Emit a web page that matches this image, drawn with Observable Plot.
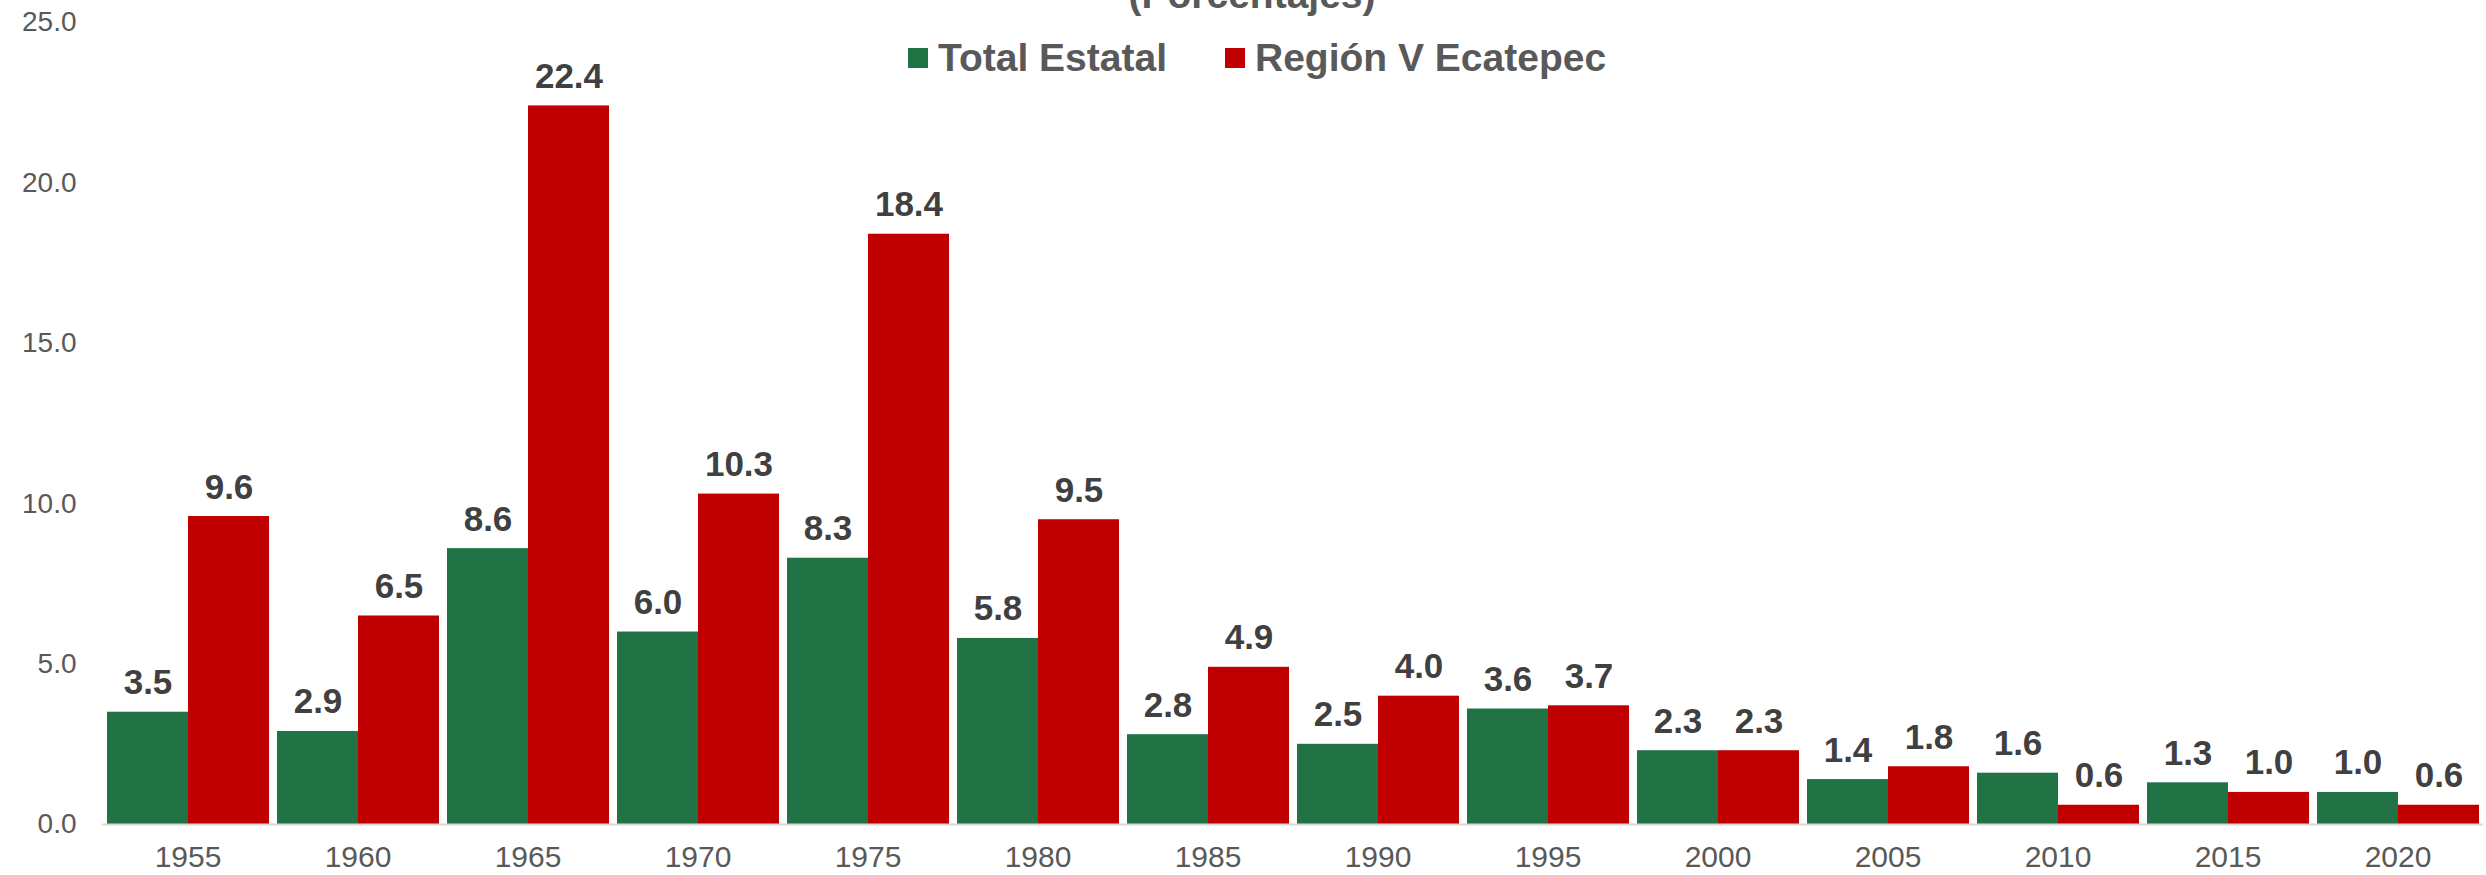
<!DOCTYPE html>
<html>
<head>
<meta charset="utf-8">
<script src="https://cdn.jsdelivr.net/npm/d3@7"></script>
<script src="https://cdn.jsdelivr.net/npm/@observablehq/plot@0.6"></script>
<style>
  html, body { margin: 0; padding: 0; background: #fff; }
  #wrap { position: relative; width: 2486px; height: 875px; overflow: hidden; font-family: "Liberation Sans", Arial, sans-serif; }
  #title { position: absolute; top: -25px; left: 1252px; transform: translateX(-50%); font-size: 39px; line-height: 39px; font-weight: bold; color: #595959; white-space: nowrap; }
  .lg-sw { position: absolute; top: 48px; width: 20px; height: 20px; }
  .lg-tx { position: absolute; top: 38px; font-size: 39px; line-height: 39px; font-weight: bold; color: #595959; white-space: nowrap; }
  svg { display: block; }
</style>
</head>
<body>
<div id="wrap">
  <div id="chart"></div>
  <div id="title">(Porcentajes)</div>
  <div id="legend"></div>
</div>
<script>
const years = ["1955","1960","1965","1970","1975","1980","1985","1990","1995","2000","2005","2010","2015","2020"];
const seriesNames = ["Total Estatal", "Región V Ecatepec"];
const totalEstatal = [3.5, 2.9, 8.6, 6.0, 8.3, 5.8, 2.8, 2.5, 3.6, 2.3, 1.4, 1.6, 1.3, 1.0];
const regionV = [9.6, 6.5, 22.4, 10.3, 18.4, 9.5, 4.9, 4.0, 3.7, 2.3, 1.8, 0.6, 1.0, 0.6];
const yTicks = [0, 5, 10, 15, 20, 25];
const colors = ["#217346", "#C00000"];

const data = years.flatMap((yr, i) => [
  {year: yr, serie: seriesNames[0], value: totalEstatal[i]},
  {year: yr, serie: seriesNames[1], value: regionV[i]}
]);

const chart = Plot.plot({
  width: 2486,
  height: 875,
  marginLeft: 102,
  marginRight: 4,
  marginTop: 22,
  marginBottom: 51,
  style: {fontFamily: "'Liberation Sans', Arial, sans-serif", background: "white", color: "#595959", overflow: "visible"},
  fx: {domain: years, paddingInner: 7/170, paddingOuter: 3.5/170, label: null, axis: null},
  x: {domain: seriesNames, padding: 0, axis: null},
  y: {domain: [0, 25], axis: null},
  color: {domain: seriesNames, range: colors},
  marks: [
    Plot.axisY({ticks: yTicks, tickFormat: d => d.toFixed(1), tickSize: 0, tickPadding: 30, fontSize: 28, label: null}),
    Plot.axisFx({anchor: "bottom", tickSize: 0, tickPadding: 21, fontSize: 30, label: null}),
    Plot.barY(data, {fx: "year", x: "serie", y: "value", fill: "serie"}),
    Plot.ruleY([0], {stroke: "#d9d9d9", strokeWidth: 2, insetLeft: -4, insetRight: -4}),
    Plot.text(data, {fx: "year", x: "serie", y: "value", text: d => d.value.toFixed(1), dy: -18, lineAnchor: "bottom", fontSize: 35, fontWeight: "bold", fill: "#404040"})
  ]
});
document.getElementById("chart").appendChild(chart);

const legend = document.getElementById("legend");
const legendPos = [[908, 938], [1225, 1255]];
seriesNames.forEach((name, i) => {
  const sw = document.createElement("div");
  sw.className = "lg-sw";
  sw.style.left = legendPos[i][0] + "px";
  sw.style.background = colors[i];
  legend.appendChild(sw);
  const tx = document.createElement("div");
  tx.className = "lg-tx";
  tx.style.left = legendPos[i][1] + "px";
  tx.textContent = name;
  legend.appendChild(tx);
});
</script>
</body>
</html>
